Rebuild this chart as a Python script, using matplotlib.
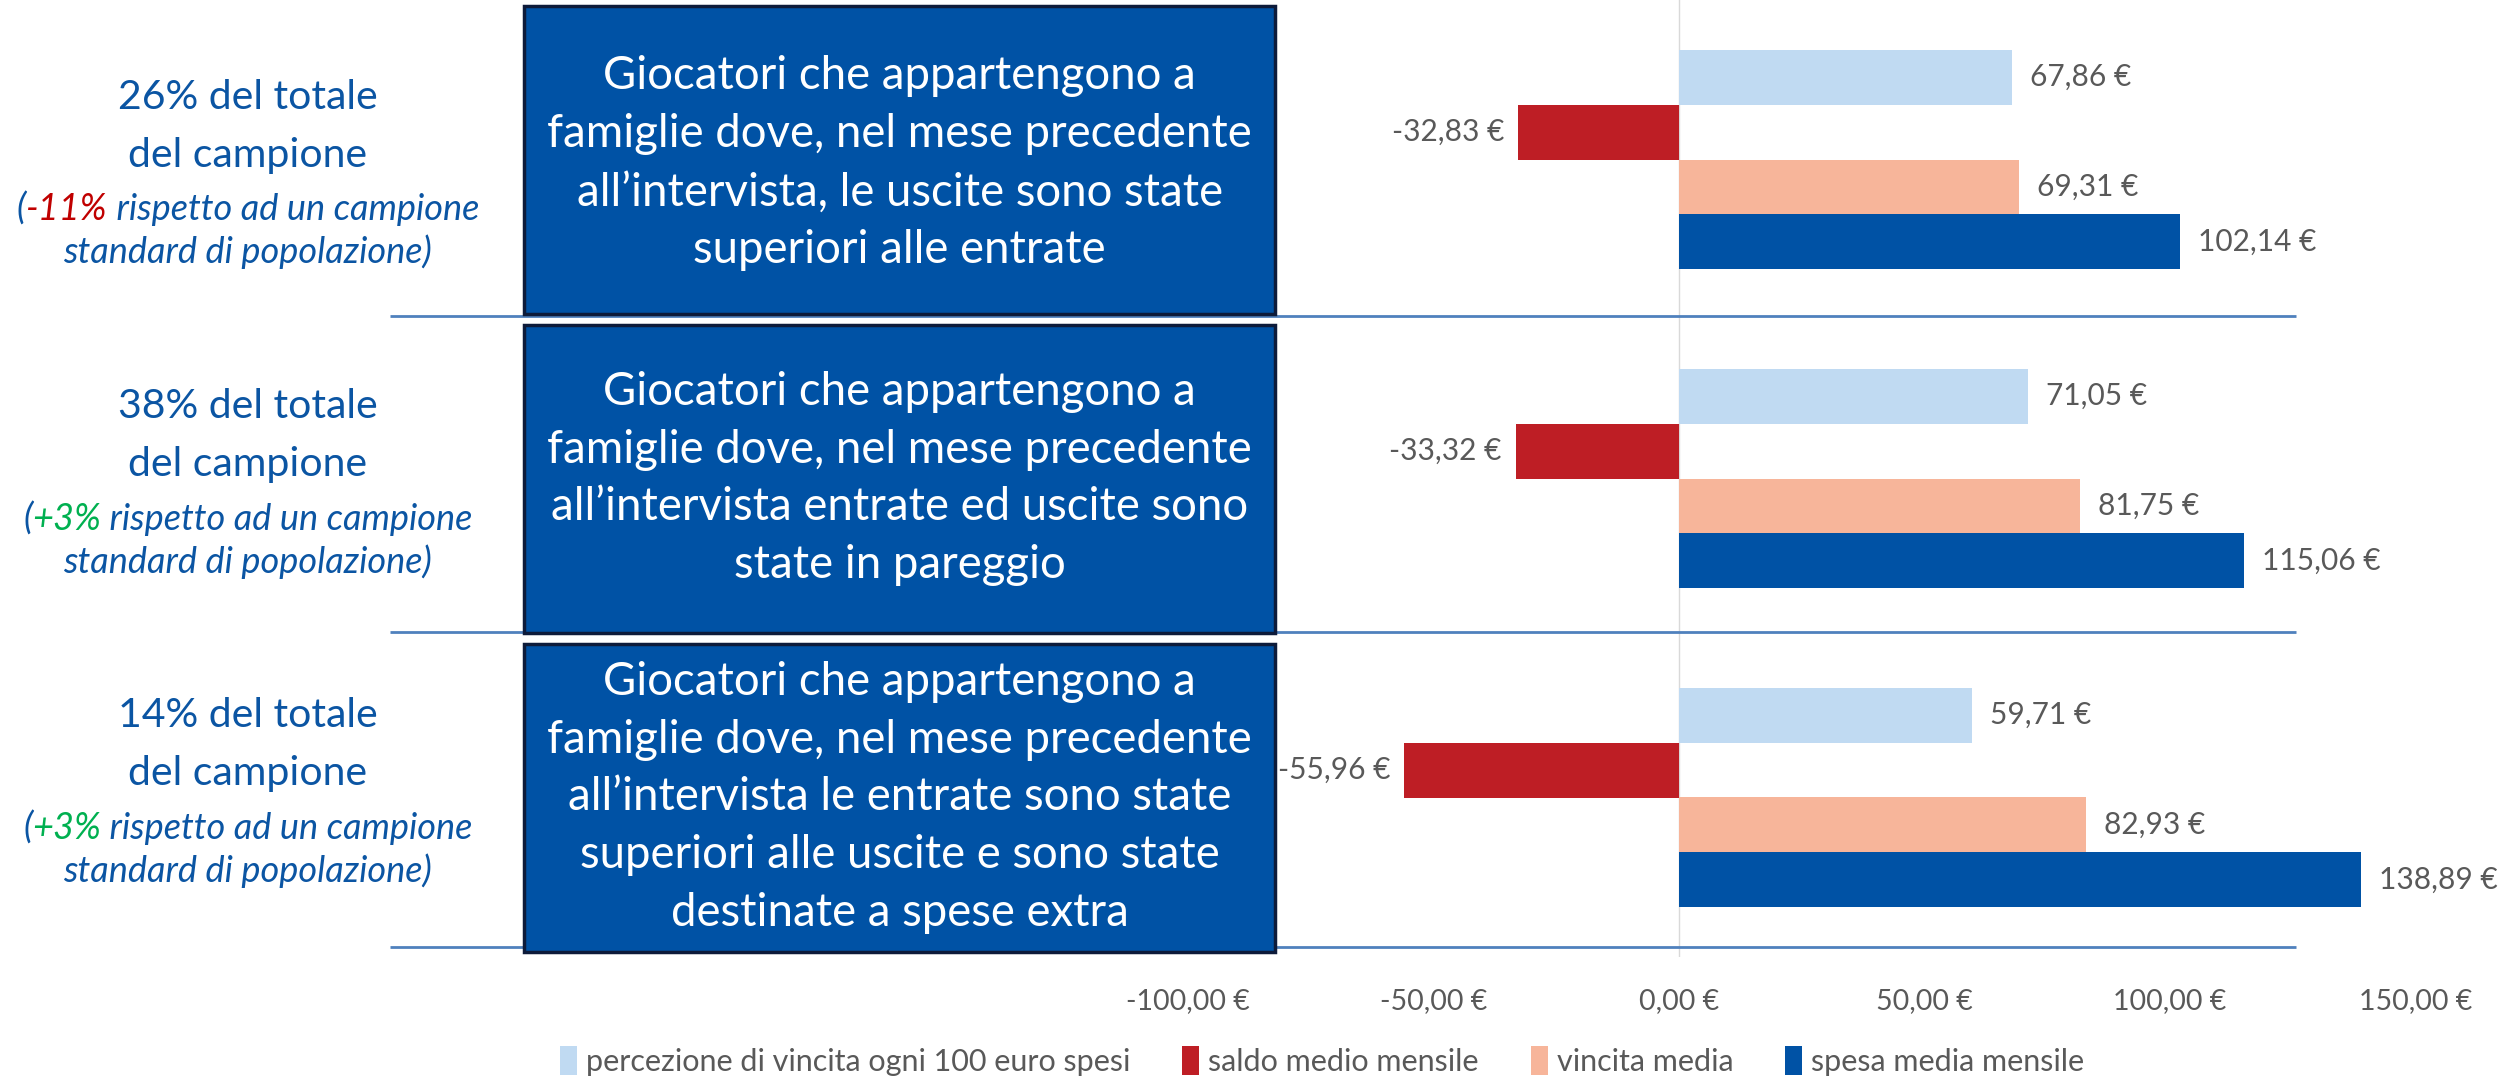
import matplotlib.pyplot as plt
from matplotlib.patches import Rectangle, Patch
from matplotlib.offsetbox import TextArea, HPacker, AnnotationBbox

plt.rcParams['font.family'] = ['Lato', 'DejaVu Sans']

# data
series = ["percezione di vincita ogni 100 euro spesi", "saldo medio mensile",
          "vincita media", "spesa media mensile"]
colors = ["#C0DAF2", "#BE1E25", "#F7B59A", "#0052A5"]

percezione = [67.86, 71.05, 59.71]
saldo = [-32.83, -33.32, -55.96]
vincita = [69.31, 81.75, 82.93]
spesa = [102.14, 115.06, 138.89]

share_labels = ["26% del totale", "38% del totale", "14% del totale"]
delta_labels = ["-11%", "+3%", "+3%"]
delta_colors = ["#C00000", "#00B050", "#00B050"]
group_labels = [
    "Giocatori che appartengono a\nfamiglie dove, nel mese precedente\n"
    "all\u2019intervista, le uscite sono state\nsuperiori alle entrate",
    "Giocatori che appartengono a\nfamiglie dove, nel mese precedente\n"
    "all\u2019intervista entrate ed uscite sono\nstate in pareggio",
    "Giocatori che appartengono a\nfamiglie dove, nel mese precedente\n"
    "all\u2019intervista le entrate sono state\nsuperiori alle uscite e sono state\n"
    "destinate a spese extra",
]
ticks = [-100, -50, 0, 50, 100, 150]


def euro(v):
    return f"{v:.2f}".replace(".", ",") + " \u20ac"


fig = plt.figure(figsize=(25.14, 10.76), dpi=100)
ax = fig.add_axes([0, 1 - 957 / 1076, 1, 957 / 1076])
ax.set_xlim(-342.1, 170.1)
ax.set_ylim(2.5, -0.5)

blue_txt = "#0B55A3"
grey = "#595959"

# zero line + separators
ax.axvline(0, color="#D9D9D9", lw=1, zorder=0)
ax.hlines([0.49, 1.48, 2.47], -262.6, 125.7, color="#4F81BD", lw=2, zorder=1)

# bars
h = 0.1724
values = [percezione, saldo, vincita, spesa]
for k, (vals, col) in enumerate(zip(values, colors)):
    ys = [i + (k - 1.5) * h for i in range(3)]
    ax.barh(ys, vals, height=h, color=col, label=series[k], zorder=2)
    for y, v in zip(ys, vals):
        if v >= 0:
            ax.annotate(euro(v), (v, y), xytext=(13, 0), textcoords="offset points",
                        ha="left", va="center", fontsize=21.5, color=grey)
        else:
            ax.annotate(euro(v), (v, y), xytext=(-10, 0), textcoords="offset points",
                        ha="right", va="center", fontsize=21.5, color=grey)

# blue boxes with group descriptions
box_shift = [0.012, 0.0, 0.0]
for i, txt in enumerate(group_labels):
    ax.add_patch(Rectangle((-235.3, i - 0.48), 153, 0.965, facecolor="#0052A5",
                           edgecolor="#0D1B3A", lw=2.5, zorder=3))
    ax.text(-158.8, i + box_shift[i], txt, ha="center", va="center", color="white",
            fontsize=32.8, linespacing=1.47, zorder=4)

# left texts
shift = [0.03, 0.0, -0.03]
for i in range(3):
    c = i + shift[i]
    ax.text(-291.6, c - 72 / 319, share_labels[i], ha="center", va="center",
            fontsize=29.5, color=blue_txt)
    ax.text(-291.6, c - 14 / 319, "del campione", ha="center", va="center",
            fontsize=29.5, color=blue_txt)
    parts = [
        TextArea("(", textprops=dict(fontsize=26, style="italic", color=blue_txt)),
        TextArea(delta_labels[i], textprops=dict(fontsize=26, style="italic", color=delta_colors[i])),
        TextArea(" rispetto ad un campione", textprops=dict(fontsize=26, style="italic", color=blue_txt)),
    ]
    row = HPacker(children=parts, pad=0, sep=0, align="baseline")
    ab = AnnotationBbox(row, (-291.6, c + 40 / 319), frameon=False,
                        box_alignment=(0.5, 0.5))
    ax.add_artist(ab)
    ax.text(-291.6, c + 83 / 319, "standard di popolazione)", ha="center", va="center",
            fontsize=26, style="italic", color=blue_txt)

# axis styling
for s in ax.spines.values():
    s.set_visible(False)
ax.set_yticks([])
ax.set_xticks(ticks)
ax.set_xticklabels([euro(t) for t in ticks])
ax.tick_params(axis="x", length=0, labelsize=20.5, labelcolor=grey, pad=22)

handles = [Patch(facecolor=c, edgecolor="none") for c in colors]
leg = fig.legend(handles, series, loc="center", bbox_to_anchor=(0.526, 0.014), ncol=4,
                 frameon=False, fontsize=22, handlelength=0.55, handleheight=1.1,
                 handletextpad=0.3, columnspacing=1.7)
for t in leg.get_texts():
    t.set_color(grey)

fig.savefig("out.png", dpi=100)
